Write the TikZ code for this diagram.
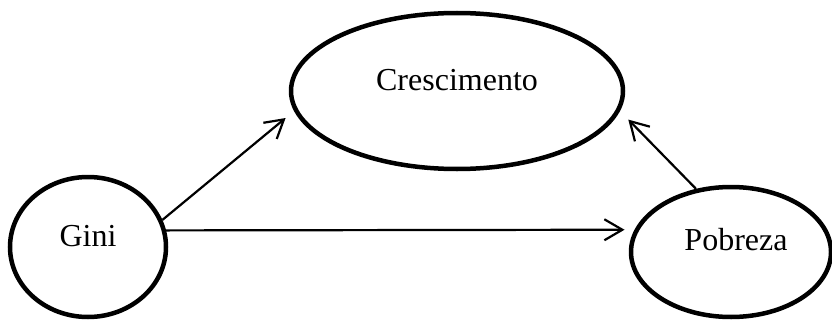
\documentclass[tikz,border=0pt]{standalone}
\usepackage{fontspec}
\setmainfont{Liberation Serif}
\usetikzlibrary{shapes.geometric,arrows.meta}
\tikzset{
  ell/.style={draw=black, line width=4.5pt, ellipse, inner sep=0pt},
  lbl/.style={anchor=base, inner sep=0pt, font=\fontsize{32}{36}\selectfont},
  arr/.style={draw=black, line width=2.2pt, -{Straight Barb[length=18pt,width=21pt,line width=2.2pt]}}
}
\begin{document}
\begin{tikzpicture}[x=1pt,y=-1pt]
\useasboundingbox (0,0) rectangle (832,321);
\node[ell, minimum width=332pt, minimum height=156pt] (cres) at (457,91) {};
\node[ell, minimum width=156pt, minimum height=140pt] (gini) at (88,247) {};
\node[ell, minimum width=200pt, minimum height=130pt] (pob) at (731,252) {};
\node[lbl] (tcres) at (457,90) {Crescimento};
\node[lbl] (tgini) at (88,246) {Gini};
\node[lbl] (tpob) at (736,250) {Pobreza};
\draw[arr, shorten >=11pt] (gini.20.6) -- (cres.187);
\draw[arr, shorten >=10pt] (gini.12.7) -- (pob.167.2);
\draw[arr, shorten >=12pt] (pob.119) -- (cres.353.5);
\end{tikzpicture}
\end{document}
